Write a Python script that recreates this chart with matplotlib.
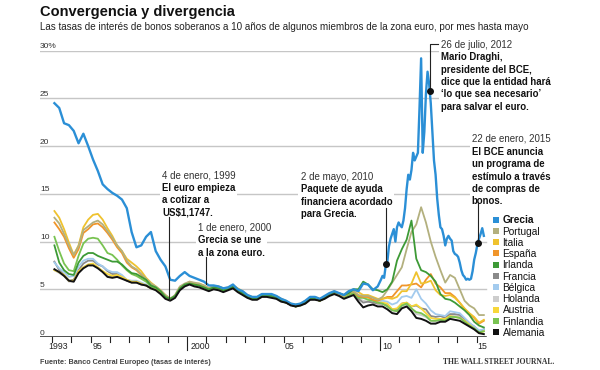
import numpy as np
import matplotlib
matplotlib.use('Agg')
import matplotlib.pyplot as plt
from matplotlib.patches import Rectangle

plt.rcParams['font.family'] = ['Liberation Sans', 'DejaVu Sans']

# -- datos: rendimiento de bonos a 10 años (%) -- #
# trimestral (mitad de trimestre), el último punto es mayo de 2015
t_trim = np.arange(1993.125, 2015.4, 0.25)
# Grecia: trimestral hasta 2009, mensual desde 2010
t_grecia = np.concatenate([np.arange(1993.125, 2010, 0.25), 2010 + (np.arange(65) + 0.5) / 12])

alemania = [7.1, 6.8, 6.4, 5.9, 5.8, 6.7, 7.2, 7.5, 7.5, 7.2, 6.8, 6.3,
            6.2, 6.3, 6.1, 5.9, 5.7, 5.7, 5.5, 5.4, 5.1, 4.9, 4.5, 4.0,
            3.8, 4.1, 4.9, 5.3, 5.5, 5.3, 5.2, 5.0, 4.8, 5.0, 4.9, 4.7,
            4.9, 5.1, 4.7, 4.4, 4.1, 3.9, 3.9, 4.2, 4.2, 4.1, 4.0, 3.7,
            3.6, 3.3, 3.2, 3.3, 3.5, 3.9, 3.9, 3.8, 4.0, 4.3, 4.5, 4.3,
            4.0, 4.2, 4.4, 3.7, 3.1, 3.3, 3.4, 3.2, 3.2, 2.9, 2.5, 2.4,
            3.0, 3.2, 2.7, 2.0, 1.9, 1.7, 1.4, 1.4, 1.6, 1.6, 1.9, 1.8,
            1.7, 1.4, 1.1, 0.8, 0.4, 0.3]
holanda = [7.0, 6.7, 6.4, 5.8, 5.8, 6.8, 7.3, 7.6, 7.6, 7.3, 6.9, 6.4,
           6.3, 6.4, 6.2, 5.9, 5.8, 5.8, 5.5, 5.4, 5.1, 5.0, 4.6, 4.1,
           3.9, 4.2, 5.0, 5.4, 5.6, 5.4, 5.4, 5.1, 4.9, 5.1, 5.0, 4.8,
           5.0, 5.2, 4.8, 4.5, 4.1, 4.0, 4.0, 4.3, 4.3, 4.2, 4.0, 3.8,
           3.6, 3.4, 3.2, 3.4, 3.5, 3.9, 4.0, 3.8, 4.0, 4.4, 4.5, 4.3,
           4.1, 4.3, 4.5, 4.0, 3.8, 3.7, 3.7, 3.5, 3.5, 3.2, 2.8, 2.7,
           3.2, 3.4, 3.0, 2.4, 2.3, 2.1, 1.7, 1.6, 1.8, 1.8, 2.2, 2.2,
           2.1, 1.7, 1.3, 0.9, 0.5, 0.6]
francia = [7.9, 7.0, 6.5, 5.9, 6.0, 7.0, 7.7, 8.0, 8.0, 7.6, 7.4, 6.9,
           6.6, 6.6, 6.3, 5.9, 5.7, 5.7, 5.5, 5.4, 5.1, 5.0, 4.7, 4.2,
           3.9, 4.2, 5.0, 5.4, 5.6, 5.5, 5.4, 5.2, 4.9, 5.1, 5.1, 4.9,
           5.0, 5.3, 4.8, 4.5, 4.2, 4.0, 4.0, 4.3, 4.3, 4.3, 4.1, 3.8,
           3.6, 3.4, 3.2, 3.4, 3.6, 4.0, 4.0, 3.8, 4.1, 4.4, 4.6, 4.4,
           4.1, 4.4, 4.6, 4.0, 3.6, 3.7, 3.6, 3.5, 3.5, 3.3, 2.9, 2.9,
           3.5, 3.6, 3.2, 3.3, 3.0, 2.9, 2.2, 2.1, 2.2, 2.0, 2.4, 2.4,
           2.3, 1.9, 1.4, 1.1, 0.6, 0.8]
belgica = [7.8, 7.2, 6.8, 6.3, 6.4, 7.4, 8.0, 8.2, 8.2, 7.7, 7.4, 7.0,
           6.8, 6.8, 6.5, 6.0, 5.9, 5.9, 5.7, 5.5, 5.2, 5.0, 4.8, 4.3,
           4.0, 4.3, 5.1, 5.5, 5.7, 5.6, 5.5, 5.3, 5.1, 5.3, 5.2, 5.0,
           5.0, 5.3, 4.9, 4.6, 4.2, 4.0, 4.0, 4.3, 4.3, 4.3, 4.1, 3.8,
           3.6, 3.4, 3.2, 3.4, 3.6, 4.0, 4.0, 3.8, 4.1, 4.4, 4.6, 4.4,
           4.3, 4.6, 4.7, 4.3, 4.2, 4.1, 3.8, 3.7, 3.8, 3.7, 3.4, 3.6,
           4.2, 4.3, 4.1, 5.0, 4.0, 3.5, 2.8, 2.4, 2.3, 2.2, 2.7, 2.6,
           2.5, 2.0, 1.5, 1.1, 0.7, 0.8]
austria = [7.0, 6.8, 6.5, 5.9, 5.9, 6.9, 7.3, 7.6, 7.7, 7.3, 6.9, 6.6,
           6.4, 6.5, 6.3, 6.0, 5.8, 5.8, 5.6, 5.4, 5.1, 5.0, 4.7, 4.2,
           3.9, 4.2, 5.1, 5.5, 5.7, 5.5, 5.5, 5.2, 5.0, 5.2, 5.1, 4.9,
           5.0, 5.3, 4.8, 4.6, 4.2, 4.0, 4.0, 4.3, 4.3, 4.3, 4.1, 3.8,
           3.6, 3.4, 3.2, 3.4, 3.6, 4.0, 4.0, 3.8, 4.1, 4.4, 4.6, 4.4,
           4.2, 4.5, 4.7, 4.3, 4.3, 4.1, 3.9, 3.6, 3.6, 3.5, 2.9, 3.0,
           3.5, 3.6, 3.2, 3.4, 3.0, 2.5, 2.0, 1.9, 1.9, 1.9, 2.2, 2.1,
           2.0, 1.7, 1.3, 0.9, 0.4, 0.6]
finlandia = [10.5, 9.0, 7.7, 7.0, 6.9, 8.5, 9.8, 10.3, 10.4, 10.3, 9.6, 8.8,
             8.6, 8.1, 7.5, 7.0, 6.6, 6.4, 6.1, 5.8, 5.3, 5.1, 4.8, 4.3,
             4.0, 4.3, 5.1, 5.5, 5.7, 5.5, 5.5, 5.2, 5.0, 5.2, 5.1, 4.9,
             5.0, 5.3, 4.9, 4.6, 4.2, 4.0, 4.0, 4.3, 4.3, 4.3, 4.1, 3.8,
             3.6, 3.4, 3.2, 3.3, 3.6, 4.0, 4.0, 3.8, 4.1, 4.4, 4.6, 4.4,
             4.1, 4.4, 4.6, 4.1, 4.1, 3.9, 3.8, 3.6, 3.5, 3.2, 2.8, 2.7,
             3.3, 3.5, 3.0, 2.6, 2.5, 2.2, 1.7, 1.7, 1.8, 1.7, 2.1, 2.1,
             2.0, 1.6, 1.2, 0.9, 0.5, 0.6]
irlanda = [9.6, 7.8, 7.0, 6.6, 6.5, 7.8, 8.5, 8.8, 8.8, 8.5, 8.3, 8.1,
           7.9, 7.9, 7.6, 7.1, 6.7, 6.6, 6.3, 6.0, 5.4, 5.2, 4.8, 4.2,
           4.0, 4.3, 5.1, 5.5, 5.6, 5.5, 5.4, 5.2, 5.0, 5.2, 5.1, 4.9,
           5.0, 5.3, 4.9, 4.6, 4.2, 4.0, 4.0, 4.3, 4.3, 4.3, 4.1, 3.8,
           3.6, 3.4, 3.2, 3.4, 3.6, 4.0, 4.0, 3.8, 4.1, 4.5, 4.7, 4.6,
           4.4, 4.6, 5.0, 5.0, 5.8, 5.5, 5.0, 4.9, 4.7, 5.0, 5.8, 8.0,
           9.2, 10.2, 12.2, 8.2, 7.0, 6.8, 6.4, 5.8, 4.5, 4.0, 3.9, 3.6,
           3.2, 2.8, 2.3, 1.6, 1.2, 1.0]
espana = [12.0, 11.3, 10.5, 9.3, 8.3, 9.2, 10.9, 11.3, 11.8, 11.9, 11.5, 10.9,
          10.2, 9.4, 8.8, 7.8, 7.3, 7.0, 6.5, 6.0, 5.5, 5.2, 4.8, 4.3,
          4.0, 4.3, 5.2, 5.5, 5.7, 5.6, 5.5, 5.3, 5.1, 5.3, 5.2, 5.0,
          5.1, 5.4, 5.0, 4.7, 4.2, 4.1, 4.1, 4.4, 4.3, 4.3, 4.1, 3.8,
          3.6, 3.4, 3.2, 3.4, 3.7, 4.0, 4.0, 3.8, 4.1, 4.5, 4.7, 4.4,
          4.3, 4.6, 4.8, 4.3, 4.2, 4.2, 3.9, 3.8, 4.0, 4.2, 4.2, 4.8,
          5.4, 5.4, 5.5, 5.6, 5.2, 6.0, 6.6, 5.6, 5.2, 4.6, 4.6, 4.2,
          3.6, 2.9, 2.4, 2.0, 1.4, 1.7]
italia = [13.2, 12.5, 11.3, 9.9, 8.6, 9.6, 11.5, 12.3, 12.8, 12.9, 12.3, 11.4,
          10.6, 9.6, 9.0, 8.2, 7.8, 7.4, 6.9, 6.2, 5.7, 5.3, 4.9, 4.4,
          4.0, 4.3, 5.2, 5.5, 5.8, 5.6, 5.6, 5.4, 5.1, 5.3, 5.3, 5.1,
          5.2, 5.4, 5.1, 4.8, 4.4, 4.2, 4.2, 4.5, 4.4, 4.4, 4.3, 4.0,
          3.8, 3.5, 3.4, 3.5, 3.8, 4.1, 4.2, 4.0, 4.2, 4.5, 4.8, 4.5,
          4.4, 4.8, 5.0, 4.7, 4.4, 4.4, 4.2, 4.0, 4.0, 4.1, 4.0, 4.2,
          4.8, 4.8, 5.6, 6.8, 5.6, 5.7, 5.9, 4.9, 4.4, 4.3, 4.4, 4.1,
          3.6, 3.0, 2.5, 2.1, 1.5, 1.8]
portugal = [12.5, 11.9, 10.8, 9.6, 8.6, 9.5, 11.2, 11.6, 12.0, 12.2, 11.8, 11.1,
            10.4, 9.6, 9.0, 8.0, 7.4, 7.1, 6.6, 6.1, 5.6, 5.3, 4.9, 4.4,
            4.0, 4.4, 5.3, 5.6, 5.8, 5.7, 5.6, 5.4, 5.1, 5.3, 5.3, 5.1,
            5.1, 5.4, 5.0, 4.7, 4.2, 4.0, 4.1, 4.4, 4.3, 4.3, 4.1, 3.8,
            3.6, 3.4, 3.3, 3.4, 3.7, 4.1, 4.1, 3.9, 4.2, 4.5, 4.7, 4.5,
            4.3, 4.6, 4.8, 4.4, 4.3, 4.3, 4.1, 3.9, 4.2, 4.9, 5.7, 6.5,
            7.3, 9.2, 11.0, 11.8, 13.6, 12.0, 10.0, 8.4, 7.0, 5.7, 6.5, 6.2,
            5.0, 3.8, 3.3, 3.0, 2.3, 2.3]
grecia_trim = [24.5, 24.0, 22.4, 22.2, 21.6, 20.3, 21.3, 20.0, 18.6, 17.4, 16.0, 15.5,
               15.1, 14.8, 14.4, 13.5, 11.0, 9.4, 9.6, 10.5, 11.0, 9.0, 8.1, 7.4,
               6.0, 5.9, 6.4, 6.8, 6.4, 6.2, 6.0, 5.8, 5.4, 5.4, 5.3, 5.1,
               5.2, 5.5, 5.0, 4.8, 4.4, 4.2, 4.2, 4.5, 4.5, 4.5, 4.3, 4.0,
               3.8, 3.5, 3.4, 3.5, 3.8, 4.2, 4.2, 4.0, 4.3, 4.6, 4.8, 4.6,
               4.4, 4.8, 5.0, 4.8, 5.6, 5.5, 4.9, 5.3]
grecia_mes = [6.0, 6.4, 6.2, 7.5, 7.9, 9.5, 10.3, 10.8, 11.3, 10.0, 11.5, 12.0,
              11.7, 11.5, 12.2, 13.5, 15.5, 17.0, 16.5, 17.5, 19.3, 18.5, 18.9, 19.3,
              24.0, 29.2, 19.3, 21.5, 25.5, 27.8, 26.5, 24.5, 21.5, 18.5, 17.0, 14.5,
              12.8, 11.5, 11.3, 10.6, 9.6, 10.3, 10.6, 10.3, 10.1, 9.0, 8.7, 8.6,
              8.4, 7.8, 7.0, 6.5, 6.3, 6.0, 6.1, 6.0, 6.1, 6.9, 8.1, 8.8,
              9.7, 10.3, 10.8, 11.4, 10.6]
grecia = grecia_trim + grecia_mes

paises = ['Grecia', 'Portugal', 'Italia', 'España', 'Irlanda', 'Francia',
          'Bélgica', 'Holanda', 'Austria', 'Finlandia', 'Alemania']
colores = ['#2b8fd6', '#b3b07e', '#efc22e', '#f0952a', '#3d9a36', '#8a8a8a',
           '#a3cbee', '#cdcdcd', '#f7d73a', '#79c352', '#111111']

# ------------------------------ #

fig = plt.figure(figsize=(6, 3.7), dpi=100)
ax = fig.add_axes([40 / 600, 33 / 370, 450 / 600, 286.3 / 370])
ax.set_xlim(1992.378, 2015.694)
ax.set_ylim(0, 30)
ax.set_axis_off()

# líneas de cuadrícula y etiquetas del eje y
for v in range(5, 31, 5):
    ax.axhline(v, xmin=0, xmax=0.99, color='#c6c6c6', lw=1, zorder=0)
for v, lab in zip(range(0, 31, 5), ['0', '5', '10', '15', '20', '25', '30%']):
    ax.text(1992.378, v + 0.25, lab, fontsize=6, color='#333333', ha='left', va='baseline')
ax.axhline(0, xmin=0, xmax=0.99, color='#222222', lw=1.1, zorder=6)

# marcas del eje x
for yr in range(1993, 2016):
    largo = 1.35 if yr in (2000, 2010) else 0.5
    ax.plot([yr, yr], [0, -largo], color='#222222', lw=0.8, clip_on=False)
for x, lab in zip([1993.3, 1995.35, 2000.7, 2005.3, 2010.35, 2015.3],
                  ['1993', '95', '2000', '05', '10', '15']):
    ax.text(x, -0.95, lab, fontsize=6.3, color='#222222', ha='center', va='center')

# series (de abajo hacia arriba)
series = {'Holanda': holanda, 'Francia': francia, 'Bélgica': belgica, 'Austria': austria,
          'Finlandia': finlandia, 'España': espana, 'Italia': italia, 'Portugal': portugal,
          'Irlanda': irlanda}
for nombre, vals in series.items():
    ax.plot(t_trim, vals, color=colores[paises.index(nombre)], lw=1.3, zorder=2)
ax.plot(t_grecia, grecia, color=colores[0], lw=1.7, zorder=3)
ax.plot(t_trim, alemania, color=colores[-1], lw=1.4, zorder=4)

# -- anotaciones -- #
caja = dict(facecolor='white', edgecolor='none', pad=1.5)
cab = dict(fontsize=7, color='#333333', ha='left', va='baseline', bbox=caja, zorder=6)
cue = dict(fontsize=6.9, fontweight='bold', color='#111111', ha='left', va='top',
           linespacing=1.3, bbox=caja, zorder=5)
linea = dict(color='#222222', lw=0.8, zorder=8, clip_on=False)

# 4 de enero, 1999
ax.text(1998.70, 16.61, '4 de enero, 1999', **cab)
ax.text(1998.70, 16.15, 'El euro empieza\na cotizar a\nUS$1,1747.', **cue)
ax.plot([1999.04, 1999.04], [12.6, np.interp(1999.04, t_trim, alemania)], **linea)

# 1 de enero, 2000
ax.text(2000.57, 11.11, '1 de enero, 2000', **cab)
ax.text(2000.57, 10.65, 'Grecia se une\na la zona euro.', **cue)
ax.plot([2001.0, 2001.0], [8.4, np.interp(2001.0, t_grecia, grecia)], **linea)

# 2 de mayo, 2010
ax.text(2005.88, 16.46, '2 de mayo, 2010', **cab)
ax.text(2005.88, 15.99, 'Paquete de ayuda\nfinanciera acordado\npara Grecia.', **cue)
y10 = np.interp(2010.33, t_grecia, grecia)
ax.plot([2010.33, 2010.33], [13.5, y10], **linea)
ax.plot(2010.33, y10, 'o', ms=4, color='#111111', zorder=9)

# 26 de julio, 2012
ax.text(2013.16, 30.26, '26 de julio, 2012', **cab)
ax.text(2013.16, 29.84, 'Mario Draghi,\npresidente del BCE,\ndice que la entidad hará\n'
        '‘lo que sea necesario’\npara salvar el euro.', **cue)
y12 = np.interp(2012.57, t_grecia, grecia)
ax.plot([2013.0, 2012.57, 2012.57], [30.7, 30.7, y12], **linea)
ax.plot(2012.57, y12, 'o', ms=4, color='#111111', zorder=9)

# 22 de enero, 2015
ax.text(2014.75, 20.47, '22 de enero, 2015', **cab)
ax.text(2014.75, 19.92, 'El BCE anuncia\nun programa de\nestímulo a través\nde compras de\nbonos.', **cue)
y15 = np.interp(2015.06, t_grecia, grecia)
ax.plot([2015.06, 2015.06], [14.15, y15], **linea)
ax.plot(2015.06, y15, 'o', ms=4, color='#111111', zorder=9)

# -- leyenda -- #
for i, (nombre, c) in enumerate(zip(paises, colores)):
    yc = 219.7 + i * 11.26
    fig.add_artist(Rectangle((493.3 / 600, 1 - (yc + 3) / 370), 5.4 / 600, 6 / 370,
                             transform=fig.transFigure, color=c, lw=0))
    fig.text(502.5 / 600, 1 - (yc + 3.6) / 370, nombre, fontsize=7.3, color='#111111',
             fontweight='bold' if nombre == 'Grecia' else 'normal', va='baseline')

# -- títulos y fuente -- #
fig.text(40 / 600, 1 - 16 / 370, 'Convergencia y divergencia', fontsize=10.5,
         fontweight='bold', color='#111111', va='baseline')
fig.text(40 / 600, 1 - 30 / 370, 'Las tasas de interés de bonos soberanos a 10 años de algunos '
         'miembros de la zona euro, por mes hasta mayo', fontsize=7.1, color='#222222', va='baseline')
fig.text(40 / 600, 1 - 363.5 / 370, 'Fuente: Banco Central Europeo (tasas de interés)',
         fontsize=5.2, fontweight='bold', color='#444444', va='baseline')
fig.text(443 / 600, 1 - 364 / 370, 'THE WALL STREET JOURNAL.', fontsize=5.5, fontweight='bold',
         family=['Liberation Serif', 'DejaVu Serif'], color='#333333', va='baseline')

fig.savefig('out.png', dpi=100)
